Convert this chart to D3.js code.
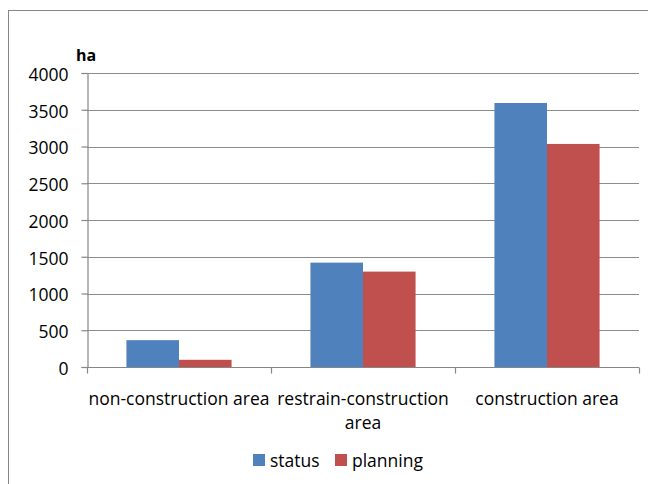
<!DOCTYPE html>
<html>
<head>
<meta charset="utf-8">
<script src="https://cdn.jsdelivr.net/npm/d3@7"></script>
<style>
  body { margin: 0; background: #fff; }
  text { font-family: "Open Sans", "Liberation Sans", sans-serif; fill: #000; }
</style>
</head>
<body>
<div id="chart"></div>
<script>
// Chart data
const categories = ["non-construction area", "restrain-construction area", "construction area"];
const seriesNames = ["status", "planning"];
const statusValues = [365, 1420, 3592];
const planningValues = [98, 1298, 3035];
const yTicks = [0, 500, 1000, 1500, 2000, 2500, 3000, 3500, 4000];

const colors = { status: "#4F81BD", planning: "#C0504D" };

const width = 648, height = 484;
const plotLeft = 87, plotRight = 639, plotTop = 73, plotBottom = 367;
const fontSize = 17.5;

const svg = d3.select("#chart").append("svg")
    .attr("width", width)
    .attr("height", height);

// Chart border (left and top edges visible)
svg.append("rect")
    .attr("x", 8.5)
    .attr("y", 10.5)
    .attr("width", 700)
    .attr("height", 600)
    .attr("fill", "none")
    .attr("stroke", "#868686");

// Scales
const x0 = d3.scaleBand()
    .domain(categories)
    .range([plotLeft, plotRight])
    .paddingInner(0)
    .paddingOuter(0);

const x1 = d3.scaleBand()
    .domain(seriesNames)
    .range([0, x0.bandwidth()])
    .paddingInner(0)
    .paddingOuter(0.75);

const y = d3.scaleLinear()
    .domain([0, 4000])
    .range([plotBottom, plotTop]);

// Gridlines
svg.append("g")
    .selectAll("line")
    .data(yTicks.filter(d => d > 0))
    .enter()
    .append("line")
    .attr("x1", plotLeft)
    .attr("x2", plotRight)
    .attr("y1", d => Math.round(y(d)) + 0.5)
    .attr("y2", d => Math.round(y(d)) + 0.5)
    .attr("stroke", "#8c8c8c")
    .attr("stroke-width", 1.2);

// Bars
const flat = [];
categories.forEach((c, i) => {
    flat.push({ cat: c, series: "status", value: statusValues[i] });
    flat.push({ cat: c, series: "planning", value: planningValues[i] });
});

svg.append("g")
    .selectAll("rect")
    .data(flat)
    .enter()
    .append("rect")
    .attr("x", d => x0(d.cat) + x1(d.series))
    .attr("y", d => y(d.value))
    .attr("width", x1.bandwidth())
    .attr("height", d => y(0) - y(d.value))
    .attr("fill", d => colors[d.series]);

// Y axis
const yAxis = svg.append("g")
    .attr("transform", `translate(${plotLeft + 0.5},0)`)
    .call(d3.axisLeft(y).tickValues(yTicks).tickFormat(d3.format("d")).tickSize(6).tickPadding(13));
yAxis.select(".domain").attr("stroke", "#868686").attr("stroke-width", 1.2);
yAxis.selectAll(".tick line").attr("stroke", "#868686").attr("stroke-width", 1.2);
yAxis.selectAll(".tick text")
    .attr("font-size", fontSize)
    .attr("font-family", "'Open Sans', sans-serif")
    .attr("dy", "0.42em")
    .attr("fill", "#000");

// X axis with ticks at category boundaries
const xAxisG = svg.append("g")
    .attr("transform", `translate(0,${plotBottom + 0.5})`);
xAxisG.append("line")
    .attr("x1", plotLeft)
    .attr("x2", plotRight)
    .attr("stroke", "#868686")
    .attr("stroke-width", 1.2);
const boundaries = categories.map(c => x0(c)).concat([plotRight]);
xAxisG.selectAll(".bt")
    .data(boundaries)
    .enter()
    .append("line")
    .attr("x1", d => Math.round(d) + 0.5)
    .attr("x2", d => Math.round(d) + 0.5)
    .attr("y1", 0)
    .attr("y2", 6)
    .attr("stroke", "#868686")
    .attr("stroke-width", 1.2);

// Category labels (wrapped as in the original)
const labelLines = {
    "non-construction area": ["non-construction area"],
    "restrain-construction area": ["restrain-construction", "area"],
    "construction area": ["construction area"]
};
categories.forEach(c => {
    const t = svg.append("text")
        .attr("x", x0(c) + x0.bandwidth() / 2)
        .attr("y", 405)
        .attr("text-anchor", "middle")
        .attr("font-size", fontSize);
    labelLines[c].forEach((line, i) => {
        t.append("tspan")
            .attr("x", x0(c) + x0.bandwidth() / 2)
            .attr("dy", i === 0 ? 0 : 24)
            .text(line);
    });
});

// Unit label
svg.append("text")
    .attr("x", 76)
    .attr("y", 61)
    .attr("font-size", 16)
    .attr("font-weight", "bold")
    .text("ha");

// Legend
const legendItems = [
    { name: "status", x: 253 },
    { name: "planning", x: 335 }
];
legendItems.forEach(item => {
    svg.append("rect")
        .attr("x", item.x)
        .attr("y", 454)
        .attr("width", 12)
        .attr("height", 12)
        .attr("fill", colors[item.name]);
    svg.append("text")
        .attr("x", item.x + 17)
        .attr("y", 467)
        .attr("font-size", fontSize)
        .text(item.name);
});
</script>
</body>
</html>
